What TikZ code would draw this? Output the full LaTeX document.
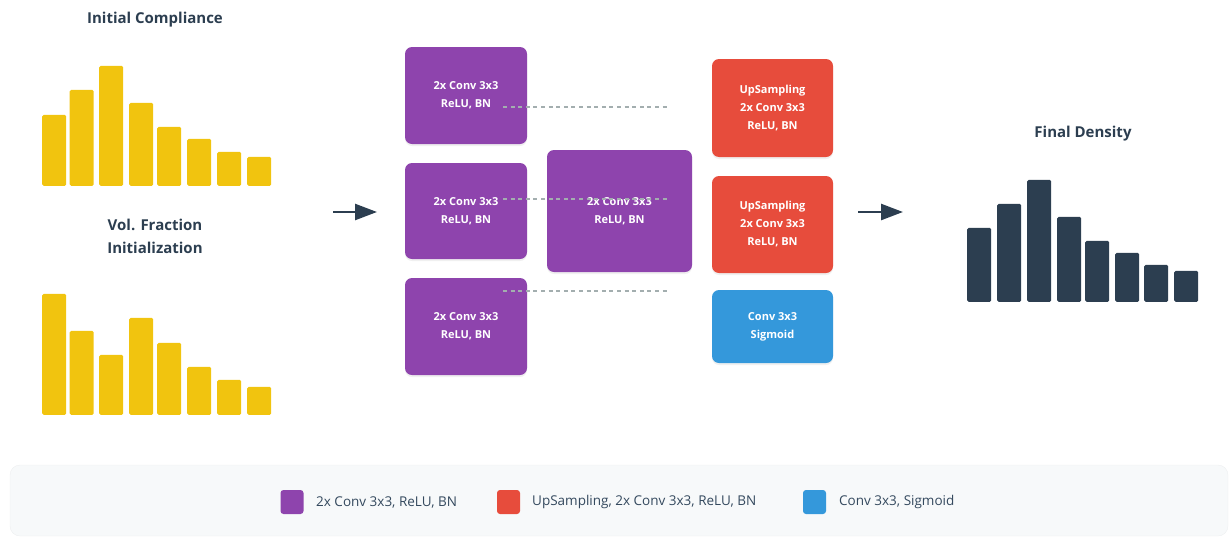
\documentclass[tikz,border=0pt]{standalone}
\usepackage{fontspec}
\setmainfont{Open Sans}
\usetikzlibrary{arrows.meta,shadows}
\definecolor{cyellow}{HTML}{F1C40F}
\definecolor{cdark}{HTML}{2C3E50}
\definecolor{cpurple}{HTML}{8E44AD}
\definecolor{cred}{HTML}{E74C3C}
\definecolor{cblue}{HTML}{3498DB}
\definecolor{cgray}{HTML}{A3AEAF}
\definecolor{clegbg}{HTML}{F7F9FA}
\definecolor{clegtext}{HTML}{34495E}
\tikzset{
  ybar/.style={fill=cyellow, rounded corners=1.5pt, inner sep=0pt, minimum width=24pt, anchor=south west},
  dbar/.style={fill=cdark, rounded corners=1.5pt, inner sep=0pt, minimum width=24pt, anchor=south west},
  title/.style={font=\bfseries\fontsize{15}{23}\selectfont, text=cdark, align=center},
  layer/.style={rounded corners=7pt, inner sep=0pt, text=white, align=center,
    font=\bfseries\fontsize{11}{18}\selectfont,
    drop shadow={opacity=0.12, shadow xshift=0pt, shadow yshift=-2pt}},
  skip/.style={draw=cgray, line width=1.8pt, dash pattern=on 4pt off 3.6pt},
  flow/.style={draw=cdark, line width=2.5pt, -{Triangle[length=22pt,width=16pt]}},
  swatch/.style={rounded corners=3pt, inner sep=0pt, minimum width=23pt, minimum height=24pt},
  legtext/.style={font=\fontsize{13.5}{15}\selectfont, text=clegtext, anchor=west, inner sep=0pt}
}
\begin{document}
\begin{tikzpicture}[x=1pt,y=-1pt]
\useasboundingbox (0,0) rectangle (1232,536);
% titles
\node[title] (t1) at (155,20) {Initial Compliance};
\node[title] (t2) at (155,236.5) {Vol. Fraction\\Initialization};
\node[title] (t3) at (1083,134) {Final Density};
% charts
\foreach \x/\h [count=\i] in {42/71,69.5/96,99/120,129/83,157/59,187/47,217/34,247/29}
  \node[ybar, minimum height=\h pt] (ca\i) at (\x,186) {};
\foreach \x/\h [count=\i] in {42/121,69.5/84,99/60,129/97,157/72,187/48,217/35,247/28}
  \node[ybar, minimum height=\h pt] (cb\i) at (\x,415) {};
\foreach \x/\h [count=\i] in {967/74,997/98,1027/122,1057/85,1085/61,1115/49,1144/37,1174/31}
  \node[dbar, minimum height=\h pt] (cc\i) at (\x,302) {};
% arrows
\coordinate (a1s) at (333,212);
\coordinate (a1e) at (377,212);
\coordinate (a2s) at (858,212);
\coordinate (a2e) at (903,212);
\draw[flow] (a1s) -- (a1e);
\draw[flow] (a2s) -- (a2e);
% encoder
\node[layer, fill=cpurple, minimum width=122pt, minimum height=97pt] (enc1) at (466,95.5) {2x Conv 3x3\\ReLU, BN};
\node[layer, fill=cpurple, minimum width=122pt, minimum height=96pt] (enc2) at (466,211) {2x Conv 3x3\\ReLU, BN};
\node[layer, fill=cpurple, minimum width=122pt, minimum height=97pt] (enc3) at (466,326.5) {2x Conv 3x3\\ReLU, BN};
\node[layer, fill=cpurple, minimum width=145pt, minimum height=122pt] (bott) at (619.5,211) {2x Conv 3x3\\ReLU, BN};
% decoder
\node[layer, fill=cred, minimum width=121pt, minimum height=98pt] (dec1) at (772.5,108) {UpSampling\\2x Conv 3x3\\ReLU, BN};
\node[layer, fill=cred, minimum width=121pt, minimum height=97pt] (dec2) at (772.5,224.5) {UpSampling\\2x Conv 3x3\\ReLU, BN};
\node[layer, fill=cblue, minimum width=121pt, minimum height=73pt] (outl) at (772.5,326.5) {Conv 3x3\\Sigmoid};
% skip connections
\coordinate (s1a) at (503,107); \coordinate (s1b) at (667,107);
\coordinate (s2a) at (503,199); \coordinate (s2b) at (667,199);
\coordinate (s3a) at (503,291); \coordinate (s3b) at (667,291);
\draw[skip] (s1a) -- (s1b);
\draw[skip] (s2a) -- (s2b);
\draw[skip] (s3a) -- (s3b);
% legend
\node[fill=clegbg, draw=clegbg!96!black, line width=0.4pt, rounded corners=10pt, minimum width=1218pt, minimum height=71pt, inner sep=0pt] (leg) at (619,500.5) {};
\node[swatch, fill=cpurple] (lg1) at (292,502) {};
\node[legtext] (lt1) at (316,502) {2x Conv 3x3, ReLU, BN};
\node[swatch, fill=cred] (lg2) at (508.5,502) {};
\node[legtext] (lt2) at (532,502) {UpSampling, 2x Conv 3x3, ReLU, BN};
\node[swatch, fill=cblue] (lg3) at (814.5,502) {};
\node[legtext] (lt3) at (839,502) {Conv 3x3, Sigmoid};
\end{tikzpicture}
\end{document}
